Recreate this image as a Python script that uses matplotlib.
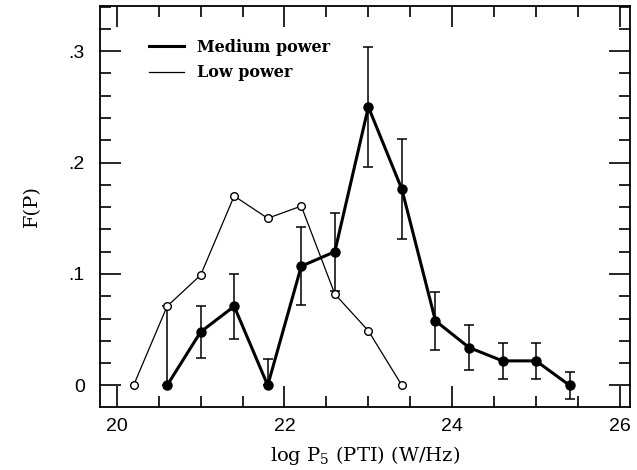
import matplotlib
matplotlib.use("Agg")
import matplotlib.pyplot as plt
from matplotlib.lines import Line2D
from matplotlib.ticker import MultipleLocator, FixedLocator, FixedFormatter

# Low power sample (open circles, no error bars)
low_x = [20.2, 20.6, 21.0, 21.4, 21.8, 22.2, 22.6, 23.0, 23.4]
low_f = [0.0, 0.071, 0.099, 0.170, 0.150, 0.161, 0.082, 0.049, 0.0]

# Medium power sample (filled circles with error bars)
med_x = [20.6, 21.0, 21.4, 21.8, 22.2, 22.6, 23.0, 23.4, 23.8, 24.2, 24.6, 25.0, 25.4]
med_f = [0.0, 0.048, 0.071, 0.0, 0.107, 0.120, 0.250, 0.176, 0.058, 0.034, 0.022, 0.022, 0.0]
med_err_lo = [0.0, 0.023, 0.029, 0.0, 0.035, 0.035, 0.054, 0.045, 0.026, 0.020, 0.016, 0.016, 0.012]
med_err_hi = [0.071, 0.023, 0.029, 0.024, 0.035, 0.035, 0.054, 0.045, 0.026, 0.020, 0.016, 0.016, 0.012]

y_ticks = [0.0, 0.1, 0.2, 0.3]
y_labels = ["0", ".1", ".2", ".3"]

plt.rcParams['mathtext.fontset'] = 'dejavuserif'

fig = plt.figure(figsize=(6.37, 4.70), dpi=100)
ax = fig.add_axes([0.157, 0.135, 0.832, 0.852])

ax.plot(low_x, low_f, color='black', lw=0.9, marker='o', ms=5.5,
        mfc='white', mec='black', mew=1.0, zorder=3)
ax.errorbar(med_x, med_f, yerr=[med_err_lo, med_err_hi], color='black', lw=2.2,
            marker='o', ms=6.5, elinewidth=1.1, capsize=3.5, capthick=1.1, zorder=2)

ax.set_xlim(19.8, 26.12)
ax.set_ylim(-0.019, 0.3405)

ax.xaxis.set_major_locator(MultipleLocator(2))
ax.xaxis.set_minor_locator(MultipleLocator(0.5))
ax.yaxis.set_major_locator(FixedLocator(y_ticks))
ax.yaxis.set_major_formatter(FixedFormatter(y_labels))
ax.yaxis.set_minor_locator(MultipleLocator(0.02))

ax.tick_params(which='both', direction='in', top=True, right=True, width=1.2)
ax.tick_params(which='major', length=15)
ax.tick_params(which='minor', length=8)
ax.tick_params(axis='x', labelsize=14, pad=8)
ax.tick_params(axis='y', labelsize=14, pad=11)
for lab in ax.get_xticklabels() + ax.get_yticklabels():
    lab.set_family('Liberation Sans')
for sp in ax.spines.values():
    sp.set_linewidth(1.3)

ax.set_xlabel(r'log P$_5$ (PTI) (W/Hz)', family='DejaVu Serif', fontsize=14, labelpad=7)
ax.set_ylabel('F(P)', family='DejaVu Serif', fontsize=14, labelpad=20)

handles = [Line2D([], [], color='black', lw=2.2), Line2D([], [], color='black', lw=0.9)]
ax.legend(handles, ['Medium power', 'Low power'], loc='upper left',
          bbox_to_anchor=(0.065, 0.955), frameon=False, handlelength=2.2,
          handletextpad=0.8, labelspacing=0.55,
          prop={'family': 'DejaVu Serif', 'weight': 'bold', 'size': 11.5})

fig.savefig('out.png', dpi=100)
